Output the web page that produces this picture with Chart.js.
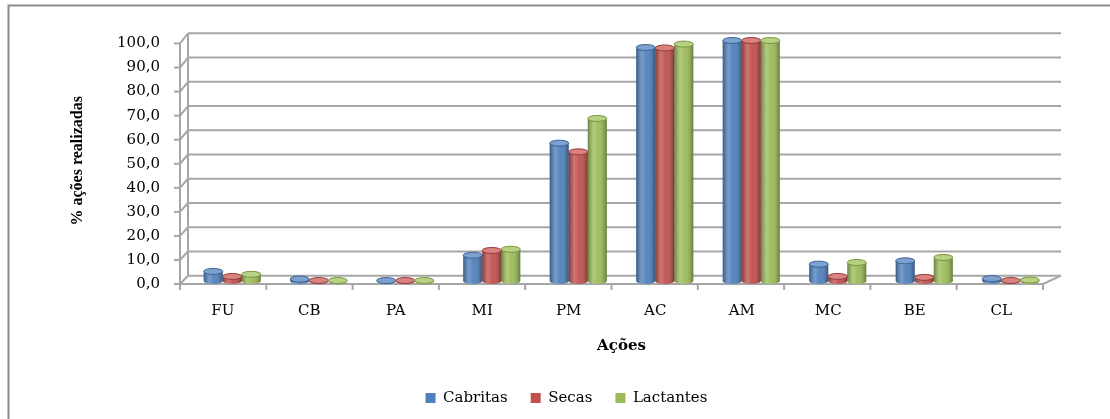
<!DOCTYPE html>
<html><head><meta charset="utf-8">
<script src="https://cdn.jsdelivr.net/npm/chart.js@4/dist/chart.umd.min.js"></script>
<style>html,body{margin:0;padding:0;background:#fff;}</style>
</head><body>
<canvas id="c" width="1110" height="419"></canvas>
<script>
const categories = ['FU','CB','PA','MI','PM','AC','AM','MC','BE','CL'];
const cabritas  = [4.0, 0.8, 0.2, 10.7, 57.3, 97.1, 100, 7.0, 8.4, 1.0];
const secas     = [1.9, 0.2, 0.2, 12.7, 53.7, 96.9, 100, 1.9, 1.5, 0.2];
const lactantes = [2.8, 0.2, 0.2, 13.2, 67.6, 98.5, 100, 7.7, 9.8, 0.4];
const seriesNames = ['Cabritas','Secas','Lactantes'];
const seriesColors = ['#4F81BD','#C0504D','#9BBB59'];
const topColors = ['#7DA2D0','#D98280','#B7D282'];
const rimColors = ['#3A6496','#953B39','#78963F'];
const yTicks = [0,10,20,30,40,50,60,70,80,90,100];
const xTitle = 'Ações';
const yTitle = '% ações realizadas';

const frame = {
  id: 'frame',
  beforeDraw(chart) {
    const ctx = chart.ctx;
    ctx.save();
    ctx.fillStyle = '#fff';
    ctx.fillRect(0, 0, chart.width, chart.height);
    ctx.strokeStyle = '#8c8c8c';
    ctx.lineWidth = 2;
    ctx.strokeRect(8.5, 5.5, 1300, 600);
    ctx.restore();
  },
  beforeDatasetsDraw(chart) {
    const {ctx, chartArea: a, scales: {y}} = chart;
    const y0 = y.getPixelForValue(0);
    const front = v => y.getPixelForValue(v) + 3;
    const back = v => { const p = y.getPixelForValue(v); return p - 5.3 - 0.0079 * (y0 - p); };
    const fL = a.left - 9, bL = a.left - 1, fR = a.right - 11, bR = a.right + 7;
    ctx.save();
    ctx.lineCap = 'butt';
    ctx.strokeStyle = '#a6a6a6';
    ctx.lineWidth = 2;
    const line = (x1, y1, x2, y2) => { ctx.beginPath(); ctx.moveTo(x1, y1); ctx.lineTo(x2, y2); ctx.stroke(); };
    yTicks.forEach(v => {
      line(bL, back(v), bR, back(v));
      line(fL, front(v), bL, back(v));
      line(fL - 6, front(v), fL, front(v));
    });
    line(fL, front(0), fL, front(100));
    line(bL, back(0), bL, back(100));
    line(fL, front(0), fR, front(0));
    line(fR, front(0), bR, back(0));
    const n = categories.length;
    for (let k = 0; k <= n; k++) {
      const x = fL + k * (fR - fL) / n;
      line(x, front(0), x, front(0) + 6);
    }
    ctx.restore();
  },
  afterDatasetsDraw(chart) {
    const ctx = chart.ctx;
    ctx.save();
    chart.data.datasets.forEach((ds, i) => {
      const meta = chart.getDatasetMeta(i);
      meta.data.forEach(bar => {
        const {x, y, base, width} = bar.getProps(['x','y','base','width'], true);
        const l = x - width / 2, rx = width / 2, ry = 3;
        const g = ctx.createLinearGradient(l, 0, l + width, 0);
        g.addColorStop(0, 'rgba(0,0,0,0.30)');
        g.addColorStop(0.3, 'rgba(255,255,255,0.22)');
        g.addColorStop(0.55, 'rgba(255,255,255,0.04)');
        g.addColorStop(1, 'rgba(0,0,0,0.35)');
        // bottom rounded edge
        ctx.beginPath();
        ctx.ellipse(x, base, rx, ry, 0, 0, Math.PI);
        ctx.fillStyle = seriesColors[i]; ctx.fill();
        ctx.fillStyle = g; ctx.fill();
        // body shading
        ctx.fillStyle = g;
        ctx.fillRect(l, y, width, base - y);
        // top cap
        ctx.beginPath();
        ctx.ellipse(x, y, rx, ry, 0, 0, Math.PI * 2);
        ctx.fillStyle = topColors[i]; ctx.fill();
        ctx.lineWidth = 1; ctx.strokeStyle = rimColors[i]; ctx.stroke();
      });
    });
    ctx.restore();
  }
};

const fmt = v => Number(v).toFixed(1).replace('.', ',');

new Chart(document.getElementById('c'), {
  type: 'bar',
  data: {
    labels: categories,
    datasets: [cabritas, secas, lactantes].map((d, i) => ({
      label: seriesNames[i],
      data: d,
      backgroundColor: seriesColors[i],
      borderWidth: 0,
      barPercentage: 1.0,
      categoryPercentage: 0.66
    }))
  },
  options: {
    responsive: false,
    devicePixelRatio: 1,
    animation: false,
    layout: { padding: { left: 79, right: 56, top: 40.5, bottom: 3.5 } },
    plugins: {
      tooltip: { enabled: false },
      legend: {
        position: 'bottom',
        labels: {
          boxWidth: 10, boxHeight: 10, padding: 23, color: '#000',
          font: { family: '"DejaVu Serif"', size: 15 }
        }
      }
    },
    scales: {
      x: {
        grid: { display: false, drawTicks: false },
        border: { display: false },
        ticks: { color: '#000', padding: 21, labelOffset: -9.5, maxRotation: 0,
                 font: { family: '"DejaVu Serif"', size: 15 } },
        title: { display: true, text: xTitle, color: '#000',
                 font: { family: '"DejaVu Serif"', size: 15, weight: 'bold' },
                 padding: { top: 0, bottom: 12.5 } },
        afterFit: s => { s.height = 86.5; }
      },
      y: {
        min: 0, max: 100,
        afterBuildTicks: s => { s.ticks = yTicks.map(v => ({ value: v })); },
        grid: { display: false, drawTicks: false },
        border: { display: false },
        ticks: { color: '#000', padding: 29, labelOffset: 3, callback: v => fmt(v),
                 font: { family: '"DejaVu Serif"', size: 15 } },
        title: { display: true, text: yTitle, color: '#000',
                 font: { family: '"Liberation Serif"', size: 16, weight: 'bold' },
                 padding: { top: -10.6, bottom: 0 } },
        afterFit: s => { s.width = 110; }
      }
    }
  },
  plugins: [frame]
});
</script>
</body></html>
